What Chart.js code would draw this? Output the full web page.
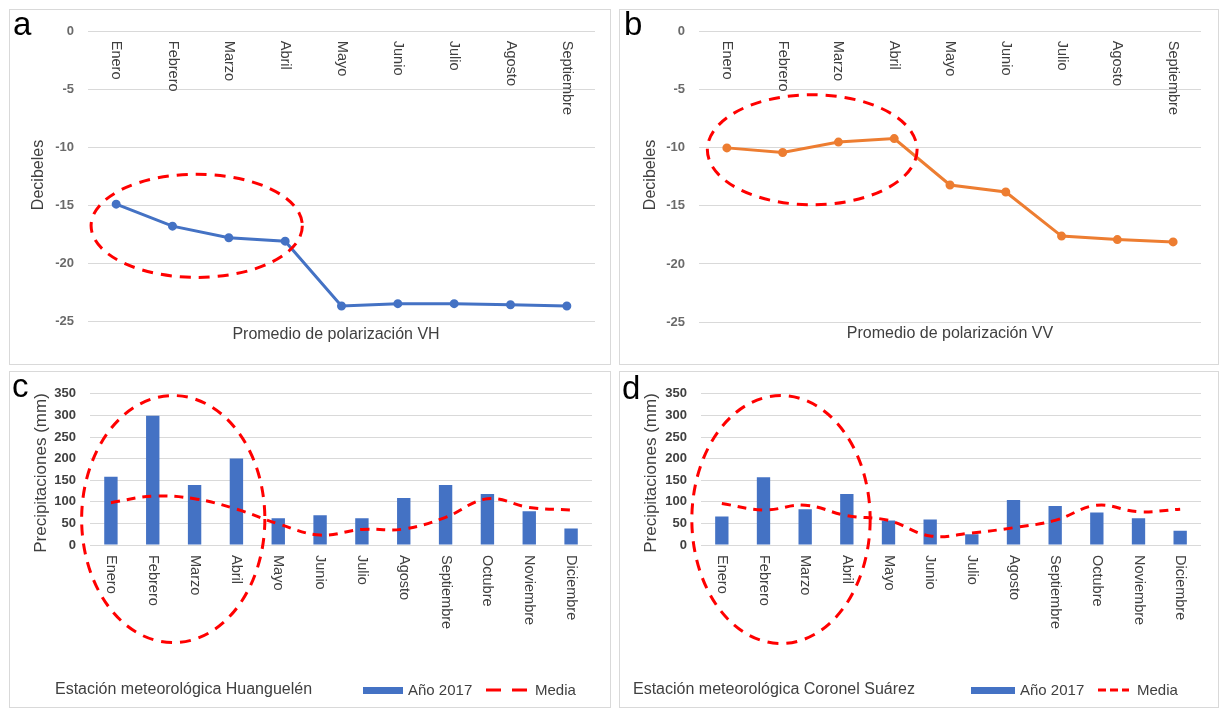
<!DOCTYPE html>
<html>
<head>
<meta charset="utf-8">
<script src="https://cdn.jsdelivr.net/npm/chart.js@4.4.0/dist/chart.umd.min.js"></script>
<style>
  body { margin: 0; background: #fff; width: 1222px; height: 711px; position: relative; overflow: hidden; }
  .panel { position: absolute; border: 1px solid #d9d9d9; background: #fff; }
  .panel canvas { display: block; }
</style>
</head>
<body>
<div class="panel" style="left:9px;top:9px"><canvas id="chartA" width="600" height="354"></canvas></div>
<div class="panel" style="left:619px;top:9px"><canvas id="chartB" width="598" height="354"></canvas></div>
<div class="panel" style="left:9px;top:371px"><canvas id="chartC" width="600" height="335"></canvas></div>
<div class="panel" style="left:619px;top:371px"><canvas id="chartD" width="598" height="335"></canvas></div>

<script>
// meses de las imagenes radar (enero a septiembre) y del año completo
var mesesRadar = ['Enero', 'Febrero', 'Marzo', 'Abril', 'Mayo', 'Junio', 'Julio', 'Agosto', 'Septiembre'];
var mesesAnio = ['Enero', 'Febrero', 'Marzo', 'Abril', 'Mayo', 'Junio', 'Julio', 'Agosto', 'Septiembre', 'Octubre', 'Noviembre', 'Diciembre'];

// promedio de retrodispersion (dB)
var promedioVH = [-14.9, -16.8, -17.8, -18.1, -23.7, -23.5, -23.5, -23.6, -23.7];
var promedioVV = [-10.0, -10.4, -9.5, -9.2, -13.2, -13.8, -17.6, -17.9, -18.1];

// precipitaciones (mm)
var huanguelen2017 = [158, 299, 139, 200, 62, 69, 62, 109, 139, 118, 78, 38];
var huanguelenMedia = [98, 113, 107, 83, 49, 23, 36, 37, 64, 107, 87, 81];
var coronel2017 = [66, 157, 83, 118, 57, 59, 25, 104, 90, 75, 62, 33];
var coronelMedia = [96, 81, 92, 68, 57, 21, 28, 40, 57, 92, 77, 83];

// ejes
var dbMin = -25, dbMax = 0, dbPaso = 5;
var mmMin = 0, mmMax = 350, mmPaso = 50;

var FUENTE = '"Liberation Sans", Arial, sans-serif';
Chart.defaults.font.family = FUENTE;

// dibuja letra del panel, titulos, meses girados, elipse y leyenda
var anotaciones = {
    id: 'anotaciones',
    afterDraw: function (chart, args, o) {
        var ctx = chart.ctx;
        var xs = chart.scales.x, ys = chart.scales.y, area = chart.chartArea;
        ctx.save();

        ctx.fillStyle = '#000';
        ctx.font = '33px ' + FUENTE;
        ctx.textAlign = 'left';
        ctx.textBaseline = 'alphabetic';
        ctx.fillText(o.letra, o.letraX, o.letraY);

        // titulo del eje y
        ctx.save();
        ctx.translate(o.tituloX, o.tituloY);
        ctx.rotate(-Math.PI / 2);
        ctx.fillStyle = '#404040';
        ctx.font = o.tituloSize + 'px ' + FUENTE;
        ctx.textAlign = 'center';
        ctx.textBaseline = 'middle';
        ctx.fillText(o.titulo, 0, 0);
        ctx.restore();

        // meses girados 90 grados
        ctx.fillStyle = '#404040';
        ctx.font = '14.5px ' + FUENTE;
        var y0 = o.mesesArriba ? area.top + 9 : area.bottom + 10;
        chart.data.labels.forEach(function (m, i) {
            ctx.save();
            ctx.translate(xs.getPixelForValue(i), y0);
            ctx.rotate(Math.PI / 2);
            ctx.textAlign = 'left';
            ctx.textBaseline = 'middle';
            ctx.fillText(m, 0, 0);
            ctx.restore();
        });

        // elipse roja discontinua
        var e = o.elipse;
        var cx = xs.getPixelForValue(e.i);
        var rx = xs.getPixelForValue(e.i + e.di) - cx;
        var cy = ys.getPixelForValue(e.v);
        var ry = cy - ys.getPixelForValue(e.v + e.dv);
        ctx.beginPath();
        ctx.ellipse(cx, cy, Math.abs(rx), Math.abs(ry), 0, 0, Math.PI * 2);
        ctx.strokeStyle = '#ff0000';
        ctx.lineWidth = 3;
        ctx.setLineDash([11, 8]);
        ctx.stroke();
        ctx.setLineDash([]);

        // texto inferior
        if (o.pie) {
            ctx.fillStyle = '#404040';
            ctx.font = '16px ' + FUENTE;
            ctx.textAlign = 'center';
            ctx.textBaseline = 'middle';
            ctx.fillText(o.pie, o.pieX, o.pieY);
        }

        // leyenda de los graficos de precipitacion
        if (o.leyenda) {
            var l = o.leyenda;
            var ds = chart.data.datasets;
            ctx.textAlign = 'left';
            ctx.textBaseline = 'middle';
            ctx.fillStyle = '#404040';
            ctx.font = '16px ' + FUENTE;
            ctx.fillText(l.estacion, l.estX, l.y);
            ctx.fillStyle = ds[0].backgroundColor;
            ctx.fillRect(l.cajaX, l.y - 3, l.cajaW, 7);
            ctx.fillStyle = '#404040';
            ctx.font = '15px ' + FUENTE;
            ctx.fillText(ds[0].label, l.cajaX + l.cajaW + 5, l.y + 1);
            ctx.beginPath();
            ctx.moveTo(l.lineaX, l.y);
            ctx.lineTo(l.lineaX + l.lineaW, l.y);
            ctx.strokeStyle = ds[1].borderColor;
            ctx.lineWidth = 3;
            ctx.setLineDash(l.guion);
            ctx.stroke();
            ctx.setLineDash([]);
            ctx.fillText(ds[1].label, l.lineaX + l.lineaW + 8, l.y + 1);
        }
        ctx.restore();
    }
};

function opciones(area, ancho, alto, yMin, yMax, paso, tickColor, notas) {
    return {
        responsive: false,
        animation: false,
        layout: {
            padding: { left: area.l - 60, top: area.t, right: ancho - area.r, bottom: alto - area.b }
        },
        plugins: {
            legend: { display: false },
            tooltip: { enabled: false },
            anotaciones: notas
        },
        scales: {
            x: { display: false, offset: true },
            y: {
                min: yMin,
                max: yMax,
                afterFit: function (s) { s.width = 60; },
                border: { display: false },
                grid: { color: '#d9d9d9', lineWidth: 1, drawTicks: false },
                ticks: {
                    stepSize: paso,
                    padding: 14,
                    color: tickColor,
                    font: { size: 13, weight: 'bold' }
                }
            }
        }
    };
}

new Chart(document.getElementById('chartA'), {
    type: 'line',
    data: {
        labels: mesesRadar,
        datasets: [{
            label: 'VH',
            data: promedioVH,
            borderColor: '#4472c4',
            backgroundColor: '#4472c4',
            borderWidth: 3,
            pointRadius: 3,
            tension: 0
        }]
    },
    options: opciones({ l: 78, t: 17, r: 585, b: 311 }, 600, 354, dbMin, dbMax, dbPaso, '#6a6a6a', {
        letra: 'a', letraX: 3, letraY: 25,
        titulo: 'Decibeles', tituloSize: 16, tituloX: 29, tituloY: 165,
        mesesArriba: true,
        elipse: { i: 1.43, di: 1.875, v: -16.77, dv: 4.46 },
        pie: 'Promedio de polarización VH', pieX: 326, pieY: 325
    }),
    plugins: [anotaciones]
});

new Chart(document.getElementById('chartB'), {
    type: 'line',
    data: {
        labels: mesesRadar,
        datasets: [{
            label: 'VV',
            data: promedioVV,
            borderColor: '#ed7d31',
            backgroundColor: '#ed7d31',
            borderWidth: 3,
            pointRadius: 3,
            tension: 0
        }]
    },
    options: opciones({ l: 79, t: 18, r: 581, b: 312 }, 598, 354, dbMin, dbMax, dbPaso, '#6a6a6a', {
        letra: 'b', letraX: 4, letraY: 25,
        titulo: 'Decibeles', tituloSize: 16, tituloX: 31, tituloY: 165,
        mesesArriba: true,
        elipse: { i: 1.53, di: 1.88, v: -10.16, dv: 4.74 },
        pie: 'Promedio de polarización VV', pieX: 330, pieY: 324
    }),
    plugins: [anotaciones]
});

function datosLluvia(anio, media) {
    return {
        labels: mesesAnio,
        datasets: [{
            type: 'bar',
            label: 'Año 2017',
            data: anio,
            backgroundColor: '#4472c4',
            barPercentage: 0.32,
            categoryPercentage: 1,
            order: 2
        }, {
            type: 'line',
            label: 'Media',
            data: media,
            borderColor: '#ff0000',
            borderWidth: 3,
            borderDash: [9, 7],
            pointRadius: 0,
            tension: 0.4,
            order: 1
        }]
    };
}

new Chart(document.getElementById('chartC'), {
    type: 'bar',
    data: datosLluvia(huanguelen2017, huanguelenMedia),
    options: opciones({ l: 80, t: 17, r: 582, b: 173 }, 600, 335, mmMin, mmMax, mmPaso, '#404040', {
        letra: 'c', letraX: 2, letraY: 25,
        titulo: 'Precipitaciones (mm)', tituloSize: 17, tituloX: 31, tituloY: 101,
        mesesArriba: false,
        elipse: { i: 1.49, di: 2.19, v: 60, dv: 286 },
        leyenda: { estacion: 'Estación meteorológica Huanguelén', estX: 45, y: 318,
                   cajaX: 353, cajaW: 40, lineaX: 476, lineaW: 41, guion: [15, 11] }
    }),
    plugins: [anotaciones]
});

new Chart(document.getElementById('chartD'), {
    type: 'bar',
    data: datosLluvia(coronel2017, coronelMedia),
    options: opciones({ l: 81, t: 17, r: 581, b: 173 }, 598, 335, mmMin, mmMax, mmPaso, '#404040', {
        letra: 'd', letraX: 2, letraY: 27,
        titulo: 'Precipitaciones (mm)', tituloSize: 17, tituloX: 31, tituloY: 101,
        mesesArriba: false,
        elipse: { i: 1.42, di: 2.14, v: 59, dv: 287 },
        leyenda: { estacion: 'Estación meteorológica Coronel Suárez', estX: 13, y: 318,
                   cajaX: 351, cajaW: 44, lineaX: 478, lineaW: 31, guion: [8, 4] }
    }),
    plugins: [anotaciones]
});
</script>
</body>
</html>
